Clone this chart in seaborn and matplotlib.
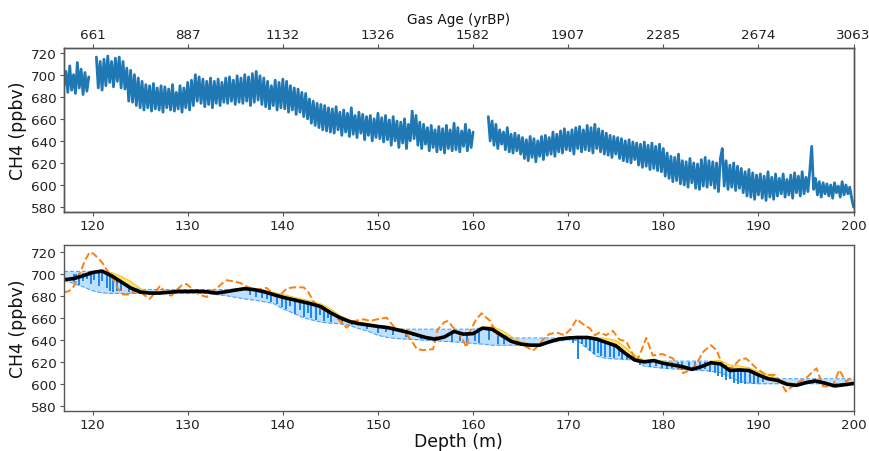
import numpy as np
import pandas as pd
import matplotlib
matplotlib.use("Agg")
import matplotlib.pyplot as plt
import seaborn as sns

# ---------------- data ----------------
# Top panel: raw CH4 record (0.2 m sampling), three continuous sections
seg_a_start = 117.0
seg_a = [690, 703, 684, 708, 686, 700, 683, 711, 688, 705, 682, 702, 685, 698]

seg_b_start = 120.4
seg_b = [716, 688, 712, 686,
         714, 690, 717, 693, 712,
         689, 715, 694, 716, 688,
         712, 687, 706, 676, 704,
         675, 700, 672, 697, 670,
         694, 668, 691, 670, 690,
         667, 692, 669, 688, 668,
         690, 666, 689, 670, 687,
         668, 691, 667, 684, 669,
         690, 666, 688, 670, 693,
         668, 695, 672, 700, 676,
         698, 674, 696, 671, 694,
         673, 697, 670, 694, 674,
         696, 672, 693, 675, 697,
         674, 698, 676, 695, 673,
         699, 675, 697, 674, 700,
         676, 698, 672, 701, 675,
         703, 677, 699, 673, 697,
         671, 694, 669, 690, 672,
         695, 668, 693, 670, 696,
         669, 694, 666, 690, 668,
         688, 664, 687, 666, 684,
         662, 683, 660, 678, 656,
         676, 654, 674, 652, 673,
         650, 672, 649, 670, 648,
         669, 647, 671, 650, 666,
         645, 668, 648, 665, 644,
         670, 646, 663, 643, 666,
         647, 664, 641, 662, 645,
         663, 640, 660, 643, 665,
         642, 661, 639, 663, 641,
         659, 636, 662, 640, 658,
         634, 657, 638, 660, 633,
         655, 640, 667, 642, 663,
         636, 657, 633, 655, 637,
         652, 631, 654, 634, 650,
         630, 653, 632, 651, 629,
         654, 633, 650, 631, 656,
         632, 652, 630, 649, 635,
         655, 631, 650, 634, 648]

seg_c_start = 161.6
seg_c = [662, 640, 658,
         636, 655, 633, 650, 637,
         648, 632, 652, 630, 646,
         629, 647, 631, 645, 628,
         643, 624, 641, 622, 644,
         625, 642, 621, 640, 626,
         644, 623, 645, 627, 643,
         628, 648, 626, 646, 630,
         649, 629, 651, 632, 648,
         631, 650, 628, 652, 633,
         653, 630, 650, 632, 654,
         631, 652, 629, 655, 633,
         651, 630, 649, 628, 647,
         627, 645, 625, 644, 628,
         643, 624, 642, 622, 640,
         621, 641, 620, 639, 623,
         638, 618, 637, 616, 639,
         617, 636, 614, 638, 615,
         635, 613, 637, 612, 633,
         608, 629, 606, 626, 603,
         625, 604, 628, 601, 622,
         600, 621, 598, 624, 602,
         620, 597, 619, 596, 623,
         599, 625, 598, 622, 600,
         621, 597, 620, 594, 624,
         633, 599, 622, 596, 618,
         598, 620, 595, 617, 597,
         615, 593, 612, 590, 614,
         589, 611, 587, 609, 591,
         610, 588, 608, 586, 612,
         589, 607, 587, 610, 590,
         606, 592, 610, 589, 605,
         591, 609, 588, 611, 593,
         608, 590, 612, 592, 607,
         594, 613, 635, 596, 606,
         591, 603, 589, 602, 592,
         601, 590, 600, 588, 602,
         593, 599, 589, 603, 591,
         600, 592, 598, 588, 580]
raw_step = 0.2

# Bottom panel: 1 m grid from 117 to 200 m
grid_start = 117
smooth_fit = [694.4, 695.5, 698, 701, 702.3, 698, 692.5, 687, 683.3, 682.3,
              682.3, 683, 683.8, 683.8, 684, 683.5, 682.3, 683.5, 685, 686.3,
              685.4, 683.6, 681, 678.5, 676.5, 674.5, 672.5, 670, 664.5, 660,
              656.5, 654.5, 653.3, 652, 651, 649, 647, 644.5, 642, 640.5,
              642.5, 647.5, 645, 645.5, 650.5, 649.5, 644, 638.5, 636, 635,
              635, 638, 640.5, 641.5, 642, 642, 640.5, 637.5, 634.5, 627.5,
              621.5, 619.8, 621, 618.5, 617, 615.5, 613, 615.5, 619, 618,
              612, 612.5, 612, 608, 604.5, 603, 599.5, 598.5, 601, 602.5,
              600.5, 598, 599, 600.2]
ensemble_top = [694.4, 695.5, 698, 701, 702.5, 701, 697.5, 693, 686.5, 683,
                682.5, 683, 684, 684, 684.5, 684, 683, 684, 686, 687,
                686.5, 685, 683, 681, 679, 677, 675, 672.5, 668, 662,
                658, 656, 654.5, 653, 652, 650.5, 648.5, 646, 643, 641,
                642.5, 647, 645.5, 646.5, 651, 652, 648.5, 643, 638, 636,
                635.5, 638, 640.5, 642, 642.5, 642.5, 642, 641, 639.5, 633,
                625.5, 621.5, 622, 620.5, 618.5, 616.5, 614, 616, 620.5, 621,
                617, 616, 614.5, 611, 608, 605, 601, 599.5, 601.5, 603,
                601.5, 599, 599.5, 600.5]
band_upper = [702, 702, 702, 702, 702.5, 698, 693, 688, 685.5, 685.5,
              685.5, 685.5, 685.5, 685.5, 685.5, 685.5, 685.5, 685.5, 686, 687,
              686, 684.5, 682, 679.5, 677.5, 675.5, 673.5, 671, 666, 661,
              657.5, 655.5, 654, 652.5, 651.5, 650, 649.5, 649.5, 649.5, 649.5,
              649.5, 649.5, 649.5, 649.5, 651, 650, 645, 641.5, 641.5, 641.5,
              641.5, 641.5, 641.5, 642, 642.5, 642.5, 641, 638, 635, 628,
              622.5, 620.5, 621.5, 620.5, 620.5, 620.5, 620.5, 620.5, 620.5, 619,
              613, 613, 612.5, 608.5, 605.8, 604.5, 604.5, 604.5, 604.5, 604.5,
              604.5, 604.5, 604.5, 604.5]
band_lower = [694, 691, 688, 684.5, 682.5, 682, 682, 682, 682, 682,
              682, 682, 682, 682, 682, 682, 681, 680, 678.5, 677,
              676, 674.5, 673, 668, 664.5, 660.5, 658, 656, 655, 654.5,
              653, 650, 647.5, 644, 642, 641, 640.5, 640, 639.5, 639,
              638.5, 638, 637.5, 636.5, 636, 635, 635, 635, 635, 635,
              635.5, 637, 638.5, 640, 639, 632, 625, 623, 622.5, 622,
              621.5, 616, 615, 614, 613.5, 613, 612.5, 612, 611.5, 610,
              606, 602, 600.5, 600, 600, 600, 600, 600, 600, 600,
              600, 600, 600, 600]

# Orange dashed curve (depth, CH4)
alt_depth = [117.0, 117.5, 118.0, 118.7, 119.2, 119.7, 120.1, 120.6, 121.1, 121.6,
             122.2, 122.7, 123.2, 123.9, 124.5, 125.0, 125.5, 126.0, 126.6, 127.1,
             127.8, 128.3, 128.8, 129.4, 129.9, 130.6, 131.2, 132.0, 132.5, 133.0,
             133.6, 134.1, 134.8, 135.5, 136.5, 137.2, 137.6, 138.3, 138.8, 139.3,
             139.9, 140.4, 141.1, 142.2, 142.7, 143.2, 143.7, 144.2, 144.9, 145.3,
             146.0, 146.7, 147.5, 148.5, 149.2, 149.9, 150.9, 151.9, 152.9, 153.6,
             154.1, 154.8, 155.8, 156.3, 157.0, 157.4, 157.8, 158.3, 158.8, 159.3,
             159.7, 160.3, 160.9, 161.4, 161.8, 162.5, 163.5, 164.9, 165.5, 166.3,
             166.8, 167.4, 168.0, 168.8, 169.6, 170.3, 170.9, 171.5, 172.3, 172.8,
             173.3, 174.0, 174.7, 175.4, 176.1, 176.6, 177.2, 177.7, 178.2, 178.9,
             179.9, 181.0, 181.6, 182.1, 183.1, 183.6, 184.2, 185.0, 185.6, 186.3,
             187.0, 187.5, 188.0, 188.7, 189.8, 190.8, 191.8, 192.4, 192.9, 194.0,
             195.0, 195.6, 196.1, 196.8, 197.8, 198.5, 199.2, 200.0]
alt_ch4 = [683, 684, 688, 701, 712, 719.5, 718, 714, 709, 702,
           694, 686, 681, 681, 684, 684, 680, 677, 683, 689,
           681, 680, 685, 689.5, 690.5, 685, 681, 678.7, 684, 686,
           691, 694, 693, 691.6, 687, 685, 686, 687, 683, 678.7,
           682, 686.4, 687.5, 687.5, 683, 675, 670, 667.5, 664.5, 663,
           657, 651, 657, 658.5, 657, 658.5, 660, 649.5, 646, 638,
           631.4, 630.5, 631.4, 649.5, 656, 657, 652, 648, 642, 633,
           648, 658, 664, 660, 657, 645, 641, 637.6, 634, 630,
           634, 640.5, 645, 646.5, 644, 650, 658.7, 654.5, 650, 644,
           646.5, 644, 648, 640, 638.5, 630, 620.4, 630, 641.7, 625.6,
           627, 623, 615, 609.6, 614, 620, 629, 635, 630.5, 615.4,
           612.5, 617, 621.5, 623, 614, 608, 608, 600, 593, 600.5,
           605, 610, 614, 597.6, 597.6, 612.5, 602, 606.6]

# Blue drops (depth, top, bottom)
drop_depth = [118.0, 118.3, 118.6, 119.0, 119.4, 119.8, 120.2, 120.7, 121.0, 121.5,
              121.8, 122.2, 122.6, 123.0, 123.8, 124.3,
              136.5, 137.2, 137.8, 138.3, 138.8, 139.4, 139.9, 140.3, 140.8, 141.3,
              141.8, 142.2, 142.6, 143.0, 143.5, 143.9, 144.3, 144.7, 145.1, 146.2,
              147.3, 148.8, 150.0, 150.8, 151.6, 152.9, 153.7, 154.5, 156.0, 157.8,
              158.6, 159.4, 160.2, 160.6, 161.7, 162.6, 163.2, 164.5,
              170.5, 171.0, 171.4, 171.9, 172.3, 172.7, 173.1, 173.5, 173.9, 174.4,
              174.8, 175.3, 175.7, 176.2, 176.6, 177.5, 178.6, 179.2, 179.9, 180.4,
              180.9, 181.5, 182.0, 182.7, 183.3, 183.9, 184.4, 184.9, 185.4, 185.8,
              186.2, 186.6, 187.0, 187.4, 187.8, 188.2, 188.6, 189.1, 189.5, 190.0,
              190.5]
drop_top = [700, 700, 701, 701, 701, 702, 702, 702, 702, 702,
            700, 698, 696, 693, 688, 686,
            686, 686, 685, 684, 683, 681, 679, 678, 677, 676,
            675, 675, 674, 673, 671, 670, 668, 666, 664, 660,
            657, 654, 652, 651, 650, 648, 646, 644, 641, 645,
            646, 645, 646, 647, 650, 648, 644, 638,
            642, 642, 642, 642, 641, 641, 641, 640, 638, 637,
            636, 634, 631, 627, 625, 621, 620, 620, 620, 620,
            620, 620, 620, 620, 620, 620, 620, 620, 620, 619,
            618, 617, 615, 613, 612, 612, 612, 612, 611, 608,
            607]
drop_bottom = [692, 694, 690, 693, 695, 691, 694, 689, 693, 687,
               684, 683, 684, 684, 683, 683,
               681, 679, 678, 677, 674, 672, 670, 668, 671, 663,
               667, 661, 664, 660, 658, 662, 657, 660, 656, 654,
               653, 650, 646, 647, 644, 642, 643, 641, 639, 638,
               639, 637, 639, 637, 640, 636, 636, 636,
               637, 622, 636, 633, 630, 627, 628, 625, 624, 624,
               623, 625, 622, 622, 623, 617, 615, 616, 614, 613,
               614, 613, 612, 613, 612, 612, 613, 611, 610, 607,
               606, 603, 604, 601, 600, 601, 600, 601, 600, 601,
               602]

depth_ticks = [120, 130, 140, 150, 160, 170, 180, 190, 200]
gas_age_labels = ["661", "887", "1132", "1326", "1582", "1907", "2285", "2674", "3063"]
ch4_ticks = [580, 600, 620, 640, 660, 680, 700, 720]

# ---------------- style ----------------
sns.set_style("ticks")
plt.rcParams["font.family"] = ["DejaVu Sans"]
edge = "#555555"
plt.rcParams.update({
    "axes.edgecolor": edge,
    "axes.linewidth": 1.0,
    "xtick.color": edge,
    "ytick.color": edge,
    "xtick.labelcolor": "#222222",
    "ytick.labelcolor": "#222222",
    "axes.labelcolor": "#111111",
    "text.color": "#111111",
    "xtick.major.size": 2.6,
    "ytick.major.size": 2.6,
    "xtick.major.pad": 2.5,
    "ytick.major.pad": 2.5,
})
tick_fs = 9.7
label_fs = 12.4

fig = plt.figure(figsize=(8.7, 4.52), dpi=100)
ax1 = fig.add_axes([0.0736, 0.5288, 0.9075, 0.3635])
ax2 = fig.add_axes([0.0736, 0.0892, 0.9075, 0.3666])

# ---- top panel ----
blue = "#1f77b4"
for start, vals in [(seg_a_start, seg_a), (seg_b_start, seg_b), (seg_c_start, seg_c)]:
    d = start + raw_step * np.arange(len(vals))
    df = pd.DataFrame({"depth": d, "ch4": vals})
    sns.lineplot(data=df, x="depth", y="ch4", ax=ax1, color=blue, lw=2.0,
                 sort=False, estimator=None)

ax1.set_xlim(117, 200)
ax1.set_ylim(575.5, 724.5)
ax1.set_xticks(depth_ticks)
ax1.set_yticks(ch4_ticks)
ax1.set_xlabel("")
ax1.set_ylabel("CH4 (ppbv)", fontsize=label_fs, labelpad=3)
ax1.tick_params(labelsize=tick_fs)
for s in ax1.spines.values():
    s.set_visible(True)

ax1t = ax1.twiny()
ax1t.set_xlim(117, 200)
ax1t.set_xticks(depth_ticks)
ax1t.set_xticklabels(gas_age_labels)
ax1t.tick_params(labelsize=tick_fs)
ax1t.set_xlabel("Gas Age (yrBP)", fontsize=9.8, labelpad=3)

# ---- bottom panel ----
gd = grid_start + np.arange(len(smooth_fit))
ax2.fill_between(gd, band_lower, band_upper, color="#1e90ff", alpha=0.28, lw=0)
ax2.plot(gd, band_upper, color="#4aa3ff", lw=0.8, ls="--")
ax2.plot(gd, band_lower, color="#4aa3ff", lw=0.8, ls="--")
ax2.vlines(drop_depth, drop_bottom, drop_top, color="#1a86f0", lw=1.4)
ax2.fill_between(gd, smooth_fit, ensemble_top, color="#ffd84a", alpha=0.75, lw=0)
sns.lineplot(x=gd, y=ensemble_top, ax=ax2, color="#f5c518", lw=0.8)
sns.lineplot(x=alt_depth, y=alt_ch4, ax=ax2, color="#ff7f0e", lw=1.4,
             linestyle="--", sort=False, estimator=None)
sns.lineplot(x=gd, y=smooth_fit, ax=ax2, color="black", lw=2.6)

ax2.set_xlim(117, 200)
ax2.set_ylim(575.5, 726)
ax2.set_xticks(depth_ticks)
ax2.set_yticks(ch4_ticks)
ax2.set_xlabel("Depth (m)", fontsize=label_fs, labelpad=1)
ax2.set_ylabel("CH4 (ppbv)", fontsize=label_fs, labelpad=3)
ax2.tick_params(labelsize=tick_fs)
for s in ax2.spines.values():
    s.set_visible(True)

fig.savefig("out.png", dpi=100)
